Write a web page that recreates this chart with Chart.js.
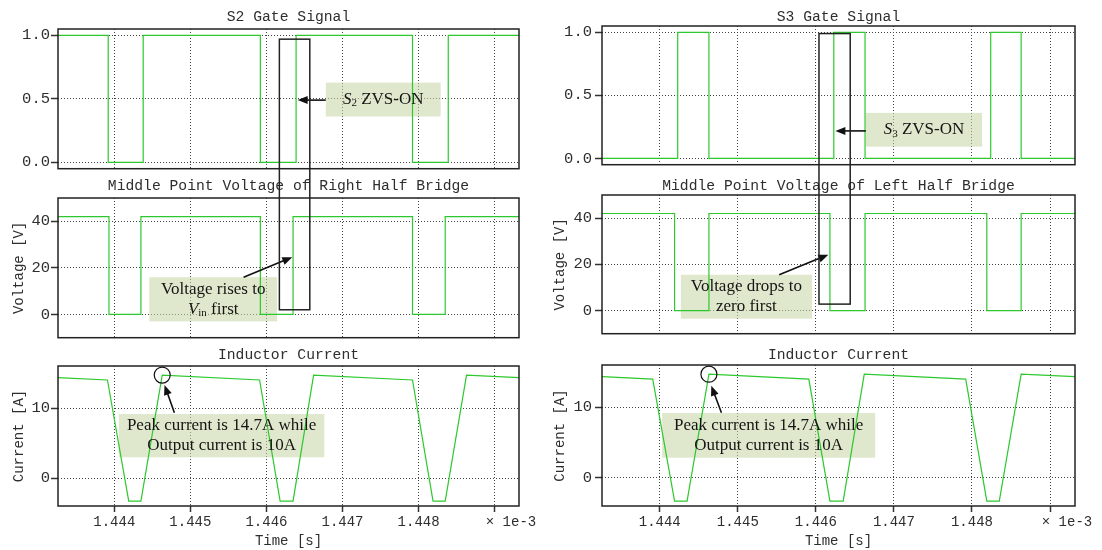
<!DOCTYPE html>
<html><head><meta charset="utf-8">
<script src="https://cdn.jsdelivr.net/npm/chart.js@4.4.1/dist/chart.umd.min.js"></script>
<style>
html,body{margin:0;padding:0;background:#fff;width:1102px;height:550px;overflow:hidden}
#root{position:relative;width:1102px;height:550px}
.c{position:absolute}
#overlay{position:absolute;left:0;top:0;pointer-events:none}
</style></head><body>
<div id="root"></div>
<script>
// ---------------- data ----------------
const timeTicks = [1.444, 1.445, 1.446, 1.447, 1.448, 1.449];
const timeTickLabels = ['1.444', '1.445', '1.446', '1.447', '1.448', ''];
const gateTicks = [0, 0.5, 1.0];
const gateTickLabels = ['0.0', '0.5', '1.0'];
const voltTicks = [0, 20, 40];
const voltTickLabels = ['0', '20', '40'];
const currTicks = [0, 10];
const currTickLabels = ['0', '10'];

// switching waveforms: each level holds from its time until the next time
const s2Time  = [1.44326, 1.44392, 1.44438, 1.44592, 1.44639, 1.44792, 1.44839, 1.44932];
const s2Level = [1, 0, 1, 0, 1, 0, 1, 1];
const s3Time  = [1.44326, 1.44423, 1.44463, 1.44623, 1.44663, 1.44824, 1.44863, 1.44932];
const s3Level = [0, 1, 0, 1, 0, 1, 0, 0];
const vRightTime  = [1.44326, 1.44393, 1.44435, 1.44592, 1.44635, 1.44792, 1.44835, 1.44932];
const vRightLevel = [42, 0, 42, 0, 42, 0, 42, 42];
const vLeftTime  = [1.44326, 1.44419, 1.44463, 1.44618, 1.44663, 1.44819, 1.44863, 1.44932];
const vLeftLevel = [42, 0, 42, 0, 42, 0, 42, 42];
// inductor current breakpoints
const iTime  = [1.44326, 1.44391, 1.44419, 1.44435, 1.44463, 1.44591, 1.44618, 1.44635, 1.44662, 1.44792, 1.44819, 1.44835, 1.44863, 1.44932];
const iValue = [14.35, 14.0, -3.3, -3.3, 14.7, 14.0, -3.3, -3.3, 14.7, 14.0, -3.3, -3.3, 14.7, 14.35];

const T_MIN = 1.44326, T_MAX = 1.44932;

// ---------------- styles ----------------
const GREEN = 'rgb(45,200,45)';
const GRID = '#444';
const TXT = '#2e2e2e';
const MONO = '"Liberation Mono", "DejaVu Sans Mono", monospace';
const SERIF = '"Liberation Serif", "Times New Roman", serif';
const BOX_FILL = 'rgba(196,214,163,0.55)';

const root = document.getElementById('root');

function drawRich(ctx, segs, cx, cy) {
  const fontFor = s => (s.it ? 'italic ' : '') + (s.sub ? 11 : 17) + 'px ' + SERIF;
  let w = 0;
  segs.forEach(s => { ctx.font = fontFor(s); s.w = ctx.measureText(s.t).width; w += s.w; });
  let x = cx - w / 2;
  ctx.textAlign = 'left';
  ctx.textBaseline = 'middle';
  segs.forEach(s => { ctx.font = fontFor(s); ctx.fillText(s.t, x, cy + (s.sub ? 4 : 0)); x += s.w; });
}

function drawArrow(ctx, x1, y1, x2, y2) {
  const a = Math.atan2(y2 - y1, x2 - x1), L = 10, W = 4;
  ctx.beginPath();
  ctx.moveTo(x1, y1);
  ctx.lineTo(x2 - L * 0.7 * Math.cos(a), y2 - L * 0.7 * Math.sin(a));
  ctx.stroke();
  ctx.beginPath();
  ctx.moveTo(x2, y2);
  ctx.lineTo(x2 - L * Math.cos(a) + W * Math.sin(a), y2 - L * Math.sin(a) - W * Math.cos(a));
  ctx.lineTo(x2 - L * Math.cos(a) - W * Math.sin(a), y2 - L * Math.sin(a) + W * Math.cos(a));
  ctx.closePath();
  ctx.fill();
}

function makePlugin(spec) {
  return {
    id: 'annot_' + spec.id,
    beforeDatasetsDraw(chart) {
      const ctx = chart.ctx, xs = chart.scales.x, ys = chart.scales.y;
      spec.boxes.forEach(b => {
        const x1 = xs.getPixelForValue(b.x0), x2 = xs.getPixelForValue(b.x1);
        const y1 = ys.getPixelForValue(b.y1), y2 = ys.getPixelForValue(b.y0);
        ctx.save(); ctx.fillStyle = BOX_FILL; ctx.fillRect(x1, y1, x2 - x1, y2 - y1); ctx.restore();
      });
    },
    afterDatasetsDraw(chart) {
      const ctx = chart.ctx, xs = chart.scales.x, ys = chart.scales.y, a = chart.chartArea;
      ctx.save();
      // frame
      ctx.strokeStyle = '#222'; ctx.lineWidth = 1.5;
      ctx.strokeRect(a.left, a.top, a.right - a.left, a.bottom - a.top);
      // title
      ctx.fillStyle = TXT; ctx.font = '14.7px ' + MONO; ctx.textAlign = 'center'; ctx.textBaseline = 'alphabetic';
      ctx.fillText(spec.title, (a.left + a.right) / 2, spec.titleY - spec._top);
      // offset label
      if (spec.bottomAxis) {
        ctx.font = '14px ' + MONO; ctx.textBaseline = 'middle';
        ctx.fillText('\u00d7 1e-3', a.right - 8, a.bottom + 16.4);
      }
      // box texts
      ctx.fillStyle = '#151515';
      spec.boxes.forEach(b => {
        const cx = (xs.getPixelForValue(b.x0) + xs.getPixelForValue(b.x1)) / 2;
        const cy = (ys.getPixelForValue(b.y0) + ys.getPixelForValue(b.y1)) / 2;
        const n = b.lines.length;
        b.lines.forEach((ln, i) => drawRich(ctx, ln.map(s => Object.assign({}, s)), cx, cy + (i - (n - 1) / 2) * 20.5));
      });
      // arrows
      ctx.strokeStyle = '#111'; ctx.fillStyle = '#111'; ctx.lineWidth = 1.6;
      spec.arrows.forEach(ar => {
        drawArrow(ctx, xs.getPixelForValue(ar.from[0]), ys.getPixelForValue(ar.from[1]),
                       xs.getPixelForValue(ar.to[0]), ys.getPixelForValue(ar.to[1]));
      });
      // circles
      ctx.lineWidth = 1.2;
      spec.circles.forEach(c => {
        ctx.beginPath();
        ctx.arc(xs.getPixelForValue(c.x), ys.getPixelForValue(c.y), 8, 0, Math.PI * 2);
        ctx.stroke();
      });
      ctx.restore();
    }
  };
}

function makeChart(spec) {
  const padTop = spec.row === 0 ? spec.area.T : 30;
  const top = spec.area.T - padTop;
  const bottom = spec.bottomAxis ? 550 : spec.area.B + 10;
  const width = spec.area.R + 25 - spec.colLeft;
  const height = bottom - top;
  spec._top = top; spec._left = spec.colLeft;
  const div = document.createElement('div');
  div.className = 'c';
  div.style.left = spec.colLeft + 'px'; div.style.top = top + 'px';
  div.style.width = width + 'px'; div.style.height = height + 'px';
  const cv = document.createElement('canvas');
  cv.width = width; cv.height = height;
  cv.style.width = width + 'px'; cv.style.height = height + 'px';
  div.appendChild(cv); root.appendChild(div);

  const monoFont = size => ({ family: MONO, size: size, weight: 'normal' });
  return new Chart(cv, {
    type: 'line',
    data: {
      datasets: [{
        data: spec.t.map((t, i) => ({ x: t, y: spec.v[i] })),
        borderColor: GREEN, borderWidth: 1.2, pointRadius: 0,
        stepped: spec.stepped, tension: 0, fill: false
      }]
    },
    options: {
      responsive: false, animation: false, events: [],
      layout: { padding: { top: padTop, right: 25, bottom: spec.bottomAxis ? 0 : 10, left: 0 } },
      plugins: { legend: { display: false }, tooltip: { enabled: false }, title: { display: false } },
      scales: {
        x: {
          type: 'linear', min: T_MIN, max: T_MAX,
          afterBuildTicks: s => { s.ticks = timeTicks.map(v => ({ value: v })); },
          afterFit: s => { s.height = spec.bottomAxis ? (550 - spec.area.B) : 0; },
          ticks: {
            display: !!spec.bottomAxis, autoSkip: false, maxRotation: 0, minRotation: 0,
            padding: 2, color: TXT, font: monoFont(14),
            callback: (v, i) => timeTickLabels[i]
          },
          grid: { color: GRID, lineWidth: 1, borderDash: [1, 2], drawTicks: !!spec.bottomAxis,
                  tickLength: 6, tickColor: '#333', tickWidth: 1.5, tickBorderDash: [] },
          border: { display: false, dash: [1, 2] },
          title: { display: !!spec.bottomAxis, text: 'Time [s]', color: TXT, font: monoFont(14),
                   padding: { top: 0, bottom: 0 } }
        },
        y: {
          min: spec.yMin, max: spec.yMax,
          afterBuildTicks: s => { s.ticks = spec.yTicks.map(v => ({ value: v })); },
          afterFit: s => { s.width = spec.area.L - spec.colLeft; },
          ticks: { autoSkip: false, padding: spec.yTickPad, color: TXT, font: monoFont(15.5),
                   callback: (v, i) => spec.yLabels[i] },
          grid: { color: GRID, lineWidth: 1, borderDash: [1, 2], drawTicks: true,
                  tickLength: 7, tickColor: '#333', tickWidth: 1.5, tickBorderDash: [] },
          border: { display: false, dash: [1, 2] },
          title: { display: !!spec.yTitle, text: spec.yTitle || '', color: TXT, font: monoFont(14),
                   padding: { top: spec.yTitlePad, bottom: 0 } }
        }
      }
    },
    plugins: [makePlugin(spec)]
  });
}

const ZVS = n => [{ t: 'S', it: 1 }, { t: n, sub: 1 }, { t: ' ZVS-ON' }];

const specs = [
  { id: 'l1', colLeft: 0, row: 0, area: { L: 58, T: 29, R: 519, B: 169 }, title: 'S2 Gate Signal', titleY: 21,
    t: s2Time, v: s2Level, stepped: true, yMin: -0.05, yMax: 1.05, yTicks: gateTicks, yLabels: gateTickLabels,
    yTitle: null, yTickPad: 1, yTitlePad: 10.6,
    boxes: [{ x0: 1.44678, x1: 1.44829, y0: 0.361, y1: 0.628, lines: [ZVS('2')] }],
    arrows: [{ from: [1.44678, 0.49], to: [1.44641, 0.49] }], circles: [] },
  { id: 'l2', colLeft: 0, row: 1, area: { L: 58, T: 198, R: 519, B: 338 }, title: 'Middle Point Voltage of Right Half Bridge', titleY: 189.5,
    t: vRightTime, v: vRightLevel, stepped: true, yMin: -10, yMax: 50, yTicks: voltTicks, yLabels: voltTickLabels,
    yTitle: 'Voltage [V]', yTickPad: 1, yTitlePad: 10.6,
    boxes: [{ x0: 1.44446, x1: 1.44614, y0: -3.0, y1: 16.0,
              lines: [[{ t: 'Voltage rises to' }], [{ t: 'V', it: 1 }, { t: 'in', sub: 1 }, { t: ' first' }]] }],
    arrows: [{ from: [1.44570, 16.0], to: [1.44634, 24.6] }], circles: [] },
  { id: 'l3', colLeft: 0, row: 2, area: { L: 58, T: 366, R: 519, B: 506 }, title: 'Inductor Current', titleY: 358.5,
    t: iTime, v: iValue, stepped: false, yMin: -4, yMax: 16, yTicks: currTicks, yLabels: currTickLabels,
    yTitle: 'Current [A]', yTickPad: 1, yTitlePad: 10.6, bottomAxis: true,
    boxes: [{ x0: 1.44406, x1: 1.44676, y0: 2.96, y1: 9.14,
              lines: [[{ t: 'Peak current is 14.7A while' }], [{ t: 'Output current is 10A' }]] }],
    arrows: [{ from: [1.44479, 9.33], to: [1.44466, 13.3] }], circles: [{ x: 1.44463, y: 14.7 }] },
  { id: 'r1', colLeft: 550, row: 0, area: { L: 602, T: 26, R: 1075, B: 167 }, title: 'S3 Gate Signal', titleY: 21,
    t: s3Time, v: s3Level, stepped: true, yMin: -0.05, yMax: 1.05, yTicks: gateTicks, yLabels: gateTickLabels,
    yTitle: null, yTickPad: 3, yTitlePad: 2.1,
    boxes: [{ x0: 1.44664, x1: 1.44813, y0: 0.093, y1: 0.361, lines: [ZVS('3')] }],
    arrows: [{ from: [1.44664, 0.218], to: [1.44625, 0.218] }], circles: [] },
  { id: 'r2', colLeft: 550, row: 1, area: { L: 602, T: 195, R: 1075, B: 336 }, title: 'Middle Point Voltage of Left Half Bridge', titleY: 189.5,
    t: vLeftTime, v: vLeftLevel, stepped: true, yMin: -10, yMax: 50, yTicks: voltTicks, yLabels: voltTickLabels,
    yTitle: 'Voltage [V]', yTickPad: 3, yTitlePad: 2.1,
    boxes: [{ x0: 1.44427, x1: 1.44595, y0: -3.5, y1: 15.5,
              lines: [[{ t: 'Voltage drops to' }], [{ t: 'zero first' }]] }],
    arrows: [{ from: [1.44553, 15.5], to: [1.44616, 24.2] }], circles: [] },
  { id: 'r3', colLeft: 550, row: 2, area: { L: 602, T: 365, R: 1075, B: 506 }, title: 'Inductor Current', titleY: 358.5,
    t: iTime, v: iValue, stepped: false, yMin: -4, yMax: 16, yTicks: currTicks, yLabels: currTickLabels,
    yTitle: 'Current [A]', yTickPad: 3, yTitlePad: 2.1, bottomAxis: true,
    boxes: [{ x0: 1.44403, x1: 1.44676, y0: 2.85, y1: 9.19,
              lines: [[{ t: 'Peak current is 14.7A while' }], [{ t: 'Output current is 10A' }]] }],
    arrows: [{ from: [1.44479, 9.23], to: [1.44466, 13.06] }], circles: [{ x: 1.44463, y: 14.7 }] }
];

const charts = {};
specs.forEach(s => { charts[s.id] = { chart: makeChart(s), spec: s }; });

// overlay: rectangles spanning gate and voltage plots
const ov = document.createElement('canvas');
ov.id = 'overlay'; ov.width = 1102; ov.height = 550;
ov.style.width = '1102px'; ov.style.height = '550px';
root.appendChild(ov);
const octx = ov.getContext('2d');
const spans = [
  { topId: 'l1', botId: 'l2', x0: 1.44617, x1: 1.44657, yTop: 0.97, yBot: 2.0 },
  { topId: 'r1', botId: 'r2', x0: 1.44604, x1: 1.44644, yTop: 0.99, yBot: 2.8 }
];
octx.strokeStyle = '#222'; octx.lineWidth = 1.5;
spans.forEach(sp => {
  const tc = charts[sp.topId], bc = charts[sp.botId];
  const xl = tc.spec._left + tc.chart.scales.x.getPixelForValue(sp.x0);
  const xr = tc.spec._left + tc.chart.scales.x.getPixelForValue(sp.x1);
  const yt = tc.spec._top + tc.chart.scales.y.getPixelForValue(sp.yTop);
  const yb = bc.spec._top + bc.chart.scales.y.getPixelForValue(sp.yBot);
  octx.strokeRect(xl, yt, xr - xl, yb - yt);
});
</script>
</body></html>
